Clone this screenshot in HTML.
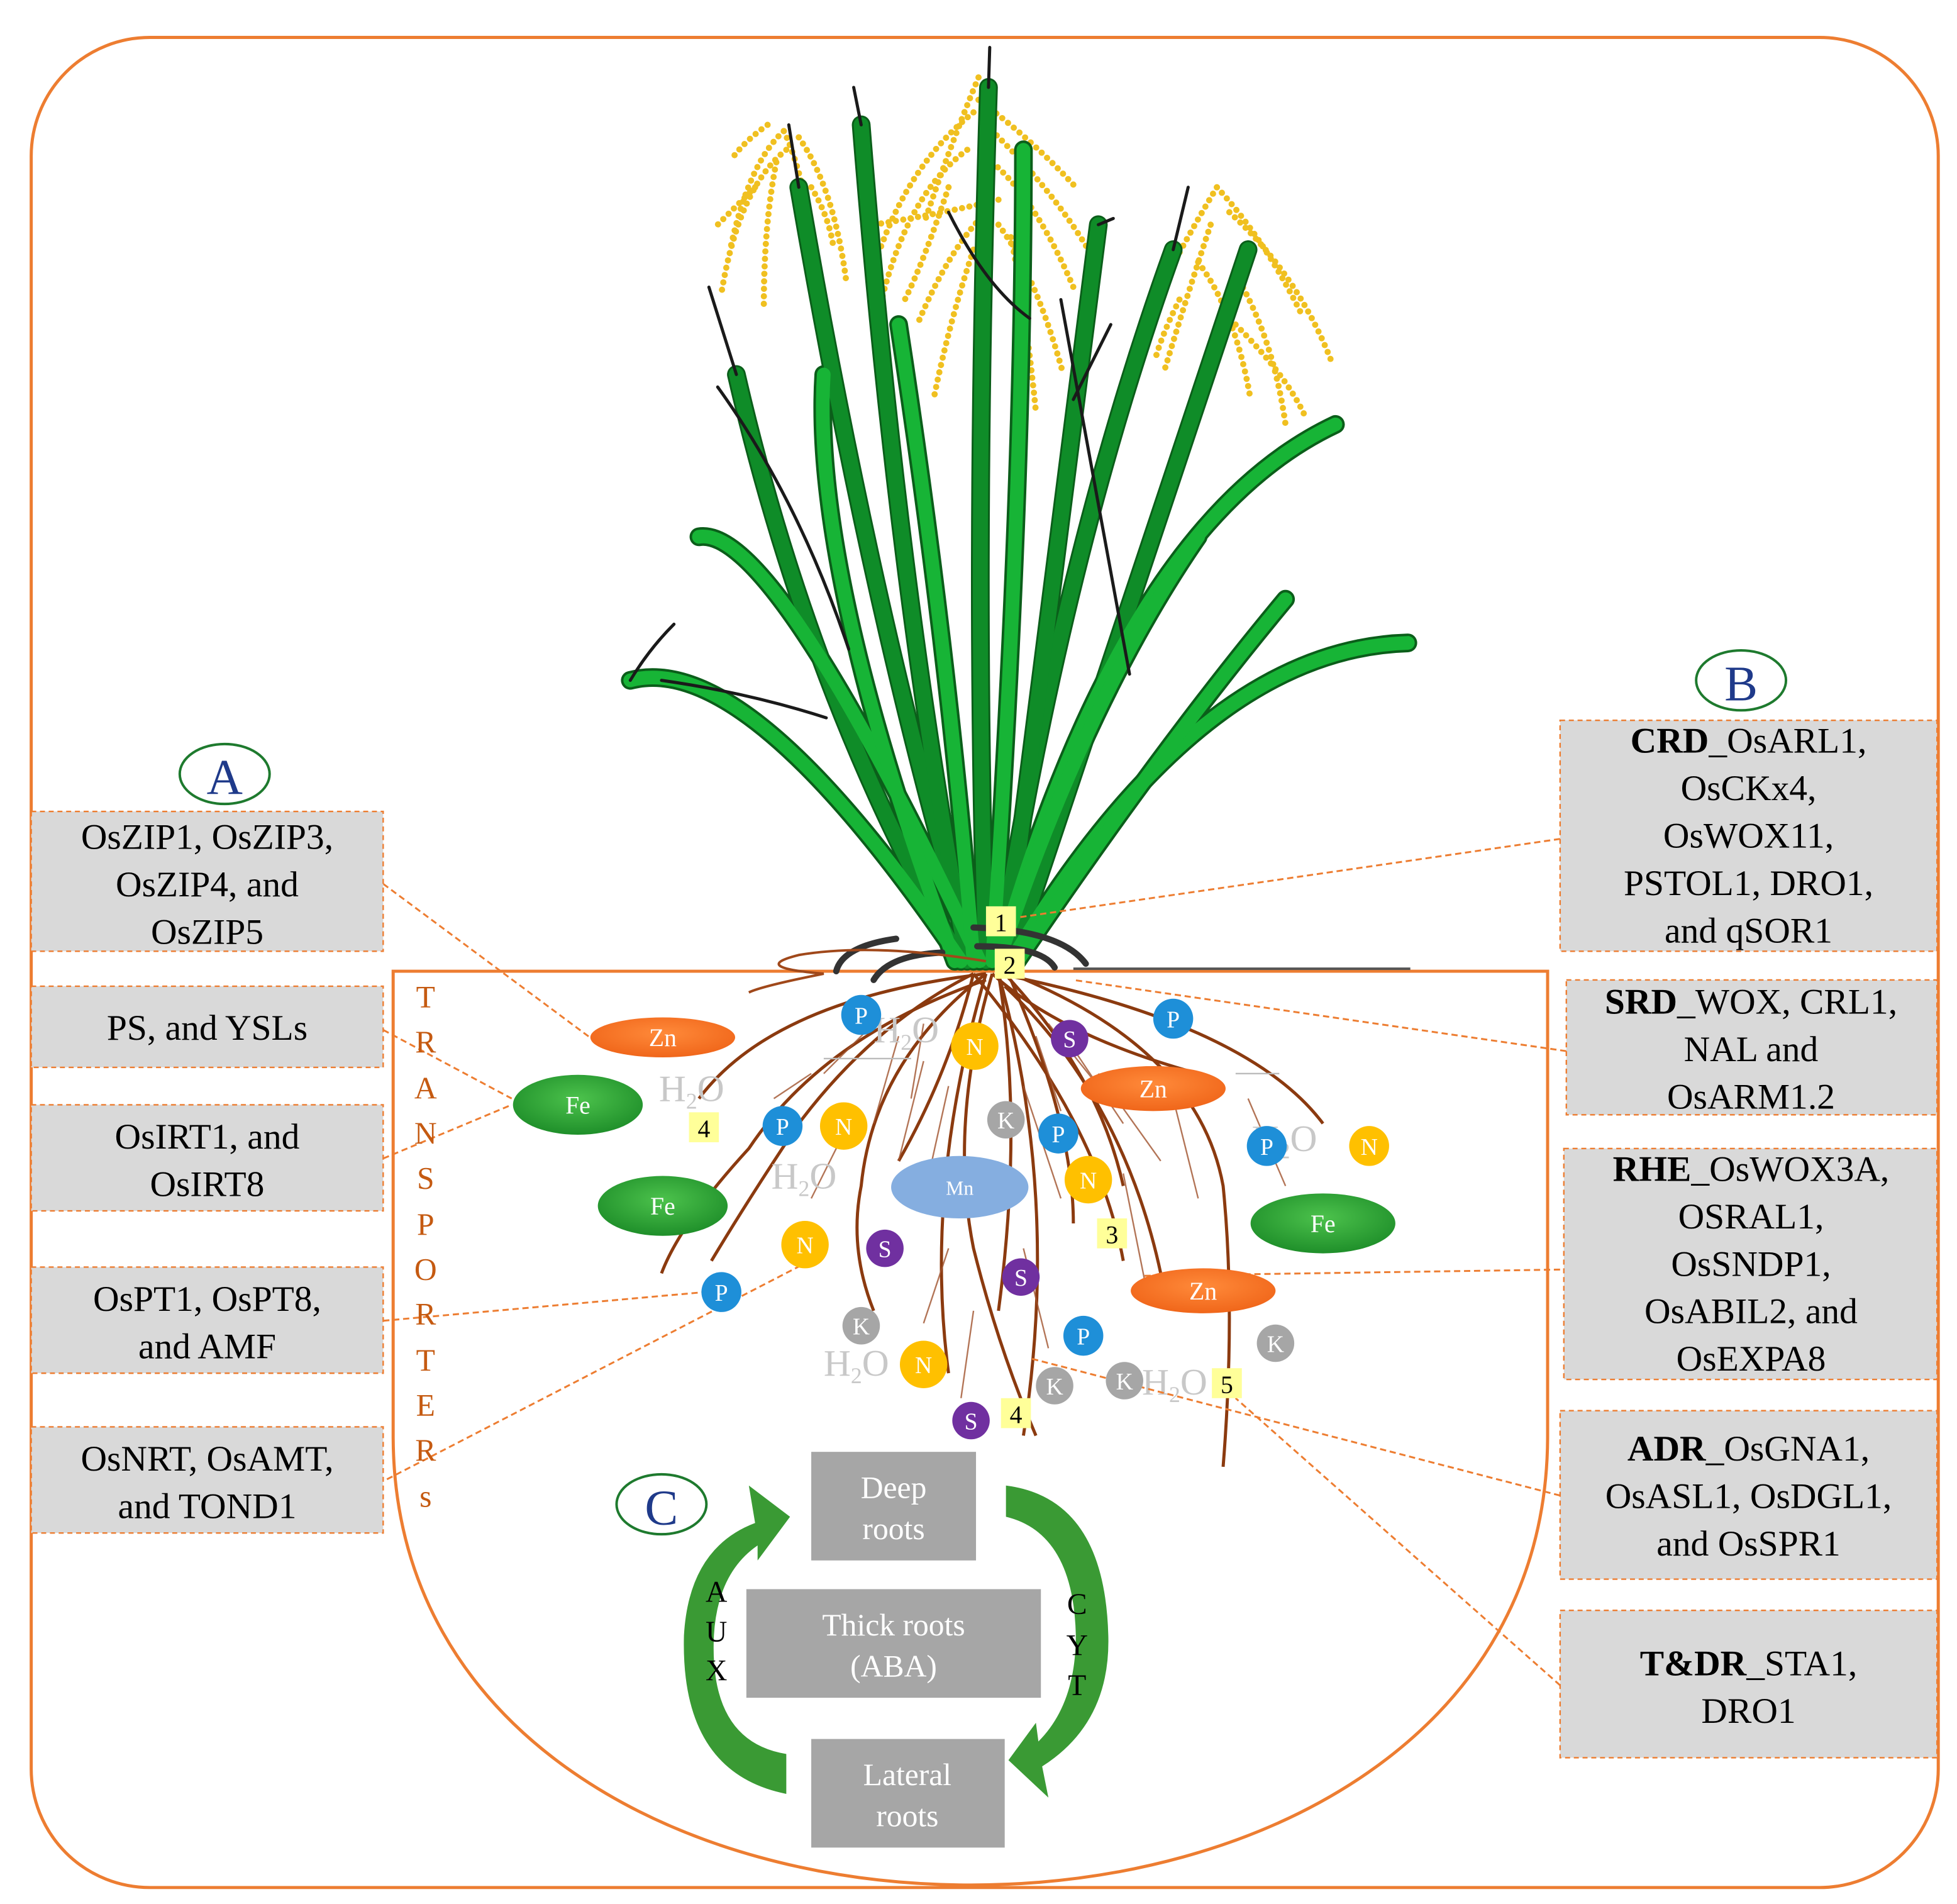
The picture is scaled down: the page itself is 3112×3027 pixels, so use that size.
<!DOCTYPE html>
<html><head><meta charset="utf-8"><style>
html,body{margin:0;padding:0;background:#fff;}
svg{display:block;}
text{font-family:"Liberation Serif",serif;}
</style></head><body>
<svg width="3112" height="3027" viewBox="0 0 1568 1525.2" xmlns="http://www.w3.org/2000/svg">
<defs>
<radialGradient id="fe" cx="0.5" cy="0.4" r="0.6"><stop offset="0" stop-color="#4cc24c"/><stop offset="1" stop-color="#1f8f2a"/></radialGradient>
<radialGradient id="zn" cx="0.5" cy="0.4" r="0.6"><stop offset="0" stop-color="#ff8a3a"/><stop offset="1" stop-color="#f0661a"/></radialGradient>
</defs>
<rect x="0" y="0" width="1568" height="1525.2" fill="#fff"/>
<rect x="25" y="30" width="1528" height="1482" rx="95" ry="95" fill="none" stroke="#ed7d31" stroke-width="2.5"/>
<path d="M315 778 H1240 V1150 C1240 1390 1010 1510 778 1510 C546 1510 315 1390 315 1150 Z" fill="none" stroke="#ed7d31" stroke-width="2.5"/>

<!-- panicles -->
<g fill="none" stroke="#f0c020" stroke-width="5" stroke-dasharray="0 6" stroke-linecap="round">
<path d="M628 105 Q600 130 585 200"/><path d="M628 105 Q645 140 658 230"/><path d="M630 120 Q592 150 578 235"/>
<path d="M622 130 Q612 180 612 245"/><path d="M640 110 Q668 150 678 225"/><path d="M615 100 Q598 112 588 125"/>
<path d="M605 150 Q585 170 575 180"/><path d="M650 150 Q665 175 668 200"/>
<path d="M784 62 Q760 120 740 180"/><path d="M780 90 Q730 130 705 200"/><path d="M775 120 Q720 160 700 270"/>
<path d="M784 80 Q825 110 862 150"/><path d="M790 100 Q842 150 872 200"/><path d="M795 130 Q830 160 860 230"/>
<path d="M790 170 Q760 200 735 260"/><path d="M800 180 Q830 220 852 300"/><path d="M780 200 Q760 260 748 320"/>
<path d="M810 190 Q822 250 830 330"/><path d="M760 150 Q740 210 725 240"/><path d="M700 180 Q760 170 800 160"/>
<path d="M975 150 Q945 200 920 250"/><path d="M975 150 Q1012 190 1042 250"/><path d="M985 170 Q1040 220 1067 290"/>
<path d="M970 180 Q950 240 932 300"/><path d="M990 220 Q1020 270 1030 340"/><path d="M960 210 Q990 250 1002 320"/>
<path d="M990 260 Q1030 300 1045 332"/><path d="M945 240 Q930 270 925 290"/>
</g>

<!-- plant leaves: dark outline layer -->
<g fill="none" stroke-linecap="round">
<g stroke="#0b5e1a" stroke-width="15">
<path d="M780 770 Q700 500 640 150"/><path d="M790 770 Q780 450 792 70"/><path d="M800 770 Q850 450 940 200"/>
<path d="M770 770 Q650 560 590 300"/><path d="M810 770 Q900 500 1000 200"/><path d="M775 770 Q720 480 690 100"/>
<path d="M805 770 Q840 500 880 180"/>
<path d="M770 770 Q600 520 505 545"/><path d="M800 770 Q900 420 1070 340"/><path d="M810 770 Q960 520 1128 515"/>
<path d="M785 770 Q620 420 560 430"/><path d="M765 770 Q650 460 660 300"/><path d="M815 770 Q930 600 1030 480"/>
<path d="M780 770 Q760 520 720 260"/><path d="M800 770 Q870 560 960 430"/><path d="M795 770 Q820 400 820 120"/>
</g>
<g stroke="#0f8c28" stroke-width="12">
<path d="M780 770 Q700 500 640 150"/><path d="M790 770 Q780 450 792 70"/><path d="M800 770 Q850 450 940 200"/>
<path d="M770 770 Q650 560 590 300"/><path d="M810 770 Q900 500 1000 200"/><path d="M775 770 Q720 480 690 100"/>
<path d="M805 770 Q840 500 880 180"/>
</g>
<g stroke="#17b436" stroke-width="11">
<path d="M770 770 Q600 520 505 545"/><path d="M800 770 Q900 420 1070 340"/><path d="M810 770 Q960 520 1128 515"/>
<path d="M785 770 Q620 420 560 430"/><path d="M765 770 Q650 460 660 300"/><path d="M815 770 Q930 600 1030 480"/>
<path d="M780 770 Q760 520 720 260"/><path d="M800 770 Q870 560 960 430"/><path d="M795 770 Q820 400 820 120"/>
</g>
<g stroke="#1a1a1a" stroke-width="2.5">
<path d="M640 150 L632 100"/><path d="M792 70 L793 38"/><path d="M940 200 L952 150"/>
<path d="M505 545 Q520 520 540 500"/><path d="M530 545 Q600 555 662 575"/><path d="M590 300 L568 230"/>
<path d="M690 100 L684 70"/><path d="M880 180 L892 175"/><path d="M850 240 Q880 400 905 540"/>
<path d="M760 170 Q790 230 825 255"/><path d="M680 520 Q640 400 575 310"/><path d="M890 260 L860 320"/>
</g>
</g>
<!-- soil line and dark arcs -->
<line x1="860" y1="776" x2="1130" y2="776" stroke="#555" stroke-width="2"/>
<g fill="none" stroke="#333" stroke-width="5" stroke-linecap="round">
<path d="M670 778 Q675 758 718 752"/>
<path d="M700 785 Q712 765 755 763"/>
<path d="M780 743 Q850 745 870 772"/>
<path d="M783 758 Q835 758 845 775"/>
</g>
<g fill="none" stroke="#a0481a" stroke-width="2">
<path d="M790 770 Q700 755 640 765 Q600 775 660 780 Q610 790 600 795"/>
</g>
<!-- roots -->
<g fill="none" stroke="#8b3a0f" stroke-width="2.5">
<path d="M780 780 Q700 820 640 900 Q600 960 570 1010"/>
<path d="M790 780 Q700 850 690 950 Q680 1000 700 1050"/>
<path d="M795 780 Q760 900 780 1000 Q800 1080 830 1150"/>
<path d="M800 780 Q820 900 800 1050"/>
<path d="M805 780 Q880 860 900 950"/>
<path d="M810 780 Q960 840 980 950 Q990 1050 980 1175"/>
<path d="M800 780 Q1000 820 1060 900"/>
<path d="M790 785 Q660 830 600 920 Q545 980 530 1020"/>
<path d="M780 780 Q880 900 900 1010"/>
<path d="M790 780 Q740 950 760 1100"/>
<path d="M800 780 Q850 960 820 1150"/>
<path d="M790 780 Q620 800 560 880"/>
<path d="M805 790 Q900 880 930 1020"/>
<path d="M795 780 Q850 830 960 860"/>
<path d="M780 780 Q760 860 720 930"/>
<path d="M810 785 Q860 900 860 980"/>
</g>
<g fill="none" stroke="#a0522d" stroke-width="1.2" opacity="0.8">
<path d="M700 820 L660 860"/><path d="M720 830 L700 900"/><path d="M740 850 L720 930"/>
<path d="M840 820 L880 870"/><path d="M860 840 L900 900"/><path d="M880 860 L930 930"/>
<path d="M760 870 L740 960"/><path d="M820 870 L850 960"/><path d="M940 880 L960 960"/>
<path d="M680 900 L650 960"/><path d="M1000 880 L1030 950"/><path d="M900 940 L920 1040"/>
<path d="M760 1000 L740 1060"/><path d="M820 1000 L840 1080"/><path d="M780 1050 L770 1120"/>
<path d="M650 860 L620 880"/><path d="M740 820 L730 880"/><path d="M830 830 L850 890"/>
</g>
<g stroke="#bbb" stroke-width="1.2"><line x1="660" y1="848" x2="730" y2="848"/><line x1="990" y1="860" x2="1025" y2="860"/></g>

<g fill="#c8c8c8" font-size="30">
<text x="528" y="882">H<tspan font-size="18" dy="6">2</tspan><tspan dy="-6">O</tspan></text>
<text x="618" y="952">H<tspan font-size="18" dy="6">2</tspan><tspan dy="-6">O</tspan></text>
<text x="1003" y="922">H<tspan font-size="18" dy="6">2</tspan><tspan dy="-6">O</tspan></text>
<text x="660" y="1102">H<tspan font-size="18" dy="6">2</tspan><tspan dy="-6">O</tspan></text>
<text x="915" y="1117">H<tspan font-size="18" dy="6">2</tspan><tspan dy="-6">O</tspan></text>
<text x="700" y="835">H<tspan font-size="18" dy="6">2</tspan><tspan dy="-6">O</tspan></text>
</g>

<g stroke="#ed7d31" stroke-width="1.5" stroke-dasharray="5,3" fill="none">
<line x1="307" y1="708" x2="478" y2="835"/>
<line x1="307" y1="825" x2="410" y2="880"/>
<line x1="307" y1="928" x2="410" y2="885"/>
<line x1="307" y1="1058" x2="565" y2="1035"/>
<line x1="310" y1="1185" x2="645" y2="1012"/>
<line x1="1250" y1="672" x2="815" y2="735"/>
<line x1="1255" y1="842" x2="860" y2="785"/>
<line x1="1250" y1="1017" x2="915" y2="1022"/>
<line x1="1250" y1="1198" x2="825" y2="1088"/>
<line x1="1250" y1="1350" x2="990" y2="1120"/>
</g>

<g font-size="20" fill="#fff" text-anchor="middle">
<ellipse cx="463" cy="885" rx="52" ry="24" fill="url(#fe)"/><text x="463" y="892">Fe</text>
<ellipse cx="531" cy="966" rx="52" ry="24" fill="url(#fe)"/><text x="531" y="973">Fe</text>
<ellipse cx="1060" cy="980" rx="58" ry="24" fill="url(#fe)"/><text x="1060" y="987">Fe</text>
<ellipse cx="531" cy="831" rx="58" ry="16" fill="url(#zn)"/><text x="531" y="838">Zn</text>
<ellipse cx="924" cy="872" rx="58" ry="18" fill="url(#zn)"/><text x="924" y="879">Zn</text>
<ellipse cx="964" cy="1034" rx="58" ry="18" fill="url(#zn)"/><text x="964" y="1041">Zn</text>
<ellipse cx="769" cy="951" rx="55" ry="25" fill="#85aee0"/><text x="769" y="957" font-size="16">Mn</text>
</g>
<g font-size="19" fill="#fff" text-anchor="middle">
<g fill="#1e8fd8"><circle cx="690" cy="813" r="16"/><circle cx="940" cy="816" r="16"/><circle cx="627" cy="902" r="16"/><circle cx="848" cy="908" r="16"/><circle cx="1015" cy="918" r="16"/><circle cx="578" cy="1035" r="16"/><circle cx="868" cy="1070" r="16"/></g>
<g fill="#ffc000"><circle cx="781" cy="838" r="19"/><circle cx="676" cy="902" r="19"/><circle cx="872" cy="945" r="19"/><circle cx="1097" cy="918" r="16"/><circle cx="645" cy="997" r="19"/><circle cx="740" cy="1093" r="19"/></g>
<g fill="#7030a0"><circle cx="857" cy="832" r="15"/><circle cx="709" cy="1000" r="15"/><circle cx="818" cy="1023" r="15"/><circle cx="778" cy="1138" r="15"/></g>
<g fill="#a6a6a6"><circle cx="806" cy="897" r="15"/><circle cx="690" cy="1062" r="15"/><circle cx="845" cy="1110" r="15"/><circle cx="901" cy="1106" r="15"/><circle cx="1022" cy="1076" r="15"/></g>
<text x="690" y="820">P</text><text x="940" y="823">P</text><text x="627" y="909">P</text><text x="848" y="915">P</text><text x="1015" y="925">P</text><text x="578" y="1042">P</text><text x="868" y="1077">P</text>
<text x="781" y="845">N</text><text x="676" y="909">N</text><text x="872" y="952">N</text><text x="1097" y="925">N</text><text x="645" y="1004">N</text><text x="740" y="1100">N</text>
<text x="857" y="839">S</text><text x="709" y="1007">S</text><text x="818" y="1030">S</text><text x="778" y="1145">S</text>
<text x="806" y="904">K</text><text x="690" y="1069">K</text><text x="845" y="1117">K</text><text x="901" y="1113">K</text><text x="1022" y="1083">K</text>
</g>
<g font-size="20" text-anchor="middle">
<rect x="790" y="726" width="24" height="24" fill="#ffff99"/><text x="802" y="746">1</text>
<rect x="797" y="760" width="24" height="24" fill="#ffff99"/><text x="809" y="780">2</text>
<rect x="552" y="891" width="24" height="24" fill="#ffff99"/><text x="564" y="911">4</text>
<rect x="879" y="976" width="24" height="24" fill="#ffff99"/><text x="891" y="996">3</text>
<rect x="802" y="1120" width="24" height="24" fill="#ffff99"/><text x="814" y="1140">4</text>
<rect x="971" y="1096" width="24" height="24" fill="#ffff99"/><text x="983" y="1116">5</text>
</g>

<g fill="#c55a11" font-size="25" text-anchor="middle">
<text x="341" y="807">T</text><text x="341" y="843">R</text><text x="341" y="880">A</text><text x="341" y="916">N</text><text x="341" y="952">S</text><text x="341" y="989">P</text><text x="341" y="1025">O</text><text x="341" y="1061">R</text><text x="341" y="1098">T</text><text x="341" y="1134">E</text><text x="341" y="1170">R</text><text x="341" y="1207">s</text>
</g>

<g fill="#d9d9d9" stroke="#ed7d31" stroke-width="1.2" stroke-dasharray="4,3">
<rect x="25" y="650" width="282" height="112"/>
<rect x="25" y="790" width="282" height="65"/>
<rect x="25" y="885" width="282" height="85"/>
<rect x="25" y="1015" width="282" height="85"/>
<rect x="25" y="1143" width="282" height="85"/>
<rect x="1250" y="577" width="302" height="185"/>
<rect x="1255" y="785" width="297" height="108"/>
<rect x="1253" y="920" width="299" height="185"/>
<rect x="1250" y="1130" width="302" height="135"/>
<rect x="1250" y="1290" width="302" height="118"/>
</g>
<g font-size="29" fill="#000" text-anchor="middle">
<text x="166" y="680">OsZIP1, OsZIP3,</text><text x="166" y="718">OsZIP4, and</text><text x="166" y="756">OsZIP5</text>
<text x="166" y="833">PS, and YSLs</text>
<text x="166" y="920">OsIRT1, and</text><text x="166" y="958">OsIRT8</text>
<text x="166" y="1050">OsPT1, OsPT8,</text><text x="166" y="1088">and AMF</text>
<text x="166" y="1178">OsNRT, OsAMT,</text><text x="166" y="1216">and TOND1</text>
<text x="1401" y="603"><tspan font-weight="bold">CRD</tspan>_OsARL1,</text><text x="1401" y="641">OsCKx4,</text><text x="1401" y="679">OsWOX11,</text><text x="1401" y="717">PSTOL1, DRO1,</text><text x="1401" y="755">and qSOR1</text>
<text x="1403" y="812"><tspan font-weight="bold">SRD</tspan>_WOX, CRL1,</text><text x="1403" y="850">NAL and</text><text x="1403" y="888">OsARM1.2</text>
<text x="1403" y="946"><tspan font-weight="bold">RHE</tspan>_OsWOX3A,</text><text x="1403" y="984">OSRAL1,</text><text x="1403" y="1022">OsSNDP1,</text><text x="1403" y="1060">OsABIL2, and</text><text x="1403" y="1098">OsEXPA8</text>
<text x="1401" y="1170"><tspan font-weight="bold">ADR</tspan>_OsGNA1,</text><text x="1401" y="1208">OsASL1, OsDGL1,</text><text x="1401" y="1246">and OsSPR1</text>
<text x="1401" y="1342"><tspan font-weight="bold">T&amp;DR</tspan>_STA1,</text><text x="1401" y="1380">DRO1</text>
</g>

<g fill="#fff" stroke="#1e7a2e" stroke-width="2">
<ellipse cx="180" cy="620" rx="36" ry="24"/><ellipse cx="1395" cy="545" rx="36" ry="24"/><ellipse cx="530" cy="1205" rx="36" ry="24"/>
</g>
<g fill="#1f3a8a" font-size="40" text-anchor="middle">
<text x="180" y="636">A</text><text x="1395" y="561">B</text><text x="530" y="1221">C</text>
</g>

<g fill="#a6a6a6">
<rect x="650" y="1163" width="132" height="87"/>
<rect x="598" y="1273" width="236" height="87"/>
<rect x="650" y="1393" width="155" height="87"/>
</g>
<g fill="#fff" font-size="25" text-anchor="middle">
<text x="716" y="1200">Deep</text><text x="716" y="1233">roots</text>
<text x="716" y="1310">Thick roots</text><text x="716" y="1343">(ABA)</text>
<text x="727" y="1430">Lateral</text><text x="727" y="1463">roots</text>
</g>
<g fill="#3a9a34">
<path d="M630 1437 Q545 1420 548 1310 Q552 1240 605 1220 L600 1190 L633 1215 L607 1250 L607 1238 Q575 1260 572 1310 Q568 1395 630 1405 Z"/>
<path d="M806 1190 Q885 1200 888 1310 Q890 1380 835 1415 L840 1440 L808 1410 L830 1380 L832 1395 Q862 1365 862 1310 Q860 1228 806 1215 Z"/>
</g>
<g font-size="24" fill="#000" text-anchor="middle">
<text x="574" y="1283">A</text><text x="574" y="1315">U</text><text x="574" y="1346">X</text>
<text x="863" y="1293">C</text><text x="863" y="1326">Y</text><text x="863" y="1358">T</text>
</g>
</svg>
</body></html>
